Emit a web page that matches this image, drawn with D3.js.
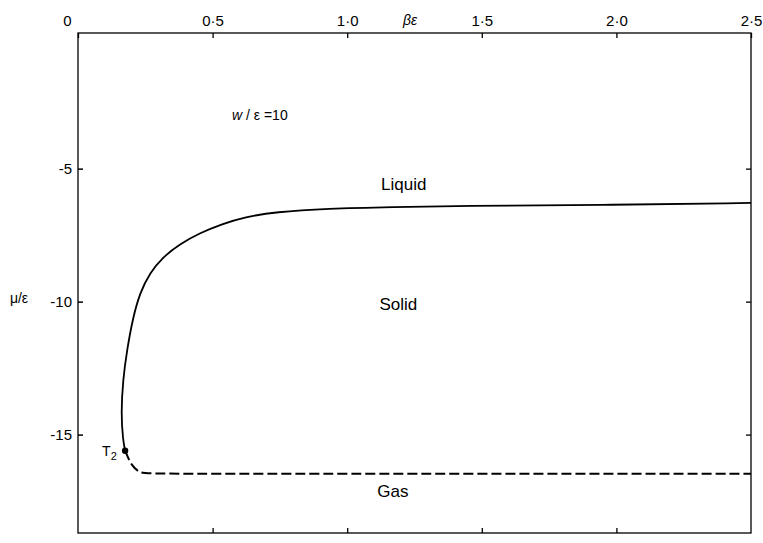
<!DOCTYPE html>
<html><head><meta charset="utf-8">
<script src="https://cdn.jsdelivr.net/npm/d3@7"></script>
<style>
body{margin:0;background:#fff;}
svg{display:block;font-family:"Liberation Sans","DejaVu Sans",sans-serif;}
</style></head>
<body><svg id="c" width="763" height="543"></svg>
<script>
// Data (beta*epsilon, mu/epsilon)
const xTicks = [0, 0.5, 1.0, 1.5, 2.0, 2.5];
const xTickLabels = ["0", "0·5", "1·0", "1·5", "2·0", "2·5"];
const yTicks = [-5, -10, -15];
const yTickLabels = ["-5", "-10", "-15"];
const solidBeta = [0.175, 0.167, 0.160, 0.167, 0.182, 0.204, 0.230, 0.267, 0.316, 0.379, 0.453, 0.535, 0.620, 0.732, 0.925, 1.17, 1.42, 1.94, 2.5];
const solidMu   = [-15.61, -15.2, -14.19, -12.95, -11.82, -10.61, -9.67, -8.92, -8.32, -7.83, -7.42, -7.08, -6.82, -6.63, -6.50, -6.44, -6.40, -6.37, -6.29];
const dashBeta = [0.175, 0.2, 0.23, 0.256, 0.6, 1.0, 1.5, 2.0, 2.5];
const dashMu   = [-15.61, -16.2, -16.43, -16.47, -16.47, -16.47, -16.47, -16.47, -16.47];
const triple = {beta: 0.175, mu: -15.61, label: "T"};
const regionLabels = ["Liquid", "Solid", "Gas"];
const regionBeta = [1.21, 1.19, 1.17];
const regionMu = [-5.8, -10.3, -17.35];

const svg = d3.select("#c");
const x = d3.scaleLinear().domain([0, 2.5]).range([78, 751]);
const y = d3.scaleLinear().domain([0.1, -18.7]).range([33, 533]);

const g = svg.append("g");
// frame
g.append("rect").attr("x", x(0)).attr("y", y(0.1)).attr("width", x(2.5)-x(0)).attr("height", y(-18.7)-y(0.1))
  .attr("fill","none").attr("stroke","#000").attr("stroke-width",1.3);

// top axis
const topAx = g.append("g").attr("transform", `translate(0,${y(0.1)})`)
  .call(d3.axisTop(x).tickValues(xTicks).tickSize(-5).tickFormat((d,i)=>xTickLabels[i]));
topAx.select(".domain").remove();
topAx.selectAll("line").attr("stroke","#000").attr("stroke-width",1.3);
topAx.selectAll("text").attr("font-size",15).attr("fill","#000").attr("y",-7);
topAx.selectAll(".tick").filter(d=>d===0).select("text").attr("x",-11);
// bottom ticks
const botAx = g.append("g").attr("transform", `translate(0,${y(-18.7)})`)
  .call(d3.axisBottom(x).tickValues(xTicks.slice(1,5)).tickSize(-5).tickFormat(""));
botAx.select(".domain").remove();
botAx.selectAll("line").attr("stroke","#000").attr("stroke-width",1.3);

// left axis
const leftAx = g.append("g").attr("transform", `translate(${x(0)},0)`)
  .call(d3.axisLeft(y).tickValues(yTicks).tickSize(-5).tickFormat((d,i)=>yTickLabels[i]));
leftAx.select(".domain").remove();
leftAx.selectAll("line").attr("stroke","#000").attr("stroke-width",1.5);
leftAx.selectAll("text").attr("font-size",15).attr("fill","#000").attr("x",-6);
// right ticks
const rightAx = g.append("g").attr("transform", `translate(${x(2.5)},0)`)
  .call(d3.axisRight(y).tickValues(yTicks).tickSize(-5).tickFormat(""));
rightAx.select(".domain").remove();
rightAx.selectAll("line").attr("stroke","#000").attr("stroke-width",1.3);

// axis titles
svg.append("text").attr("x", 410).attr("y", 25).attr("text-anchor","middle").attr("font-size",14)
  .attr("font-style","italic").text("βε");
svg.append("text").attr("x", 19).attr("y", 303).attr("text-anchor","middle").attr("font-size",14).text("μ/ε");

// curves
const solidPts = solidBeta.map((b,i)=>[b, solidMu[i]]);
svg.append("path").attr("d", d3.line().x(d=>x(d[0])).y(d=>y(d[1])).curve(d3.curveBasis)(solidPts))
  .attr("fill","none").attr("stroke","#000").attr("stroke-width",1.8);
const dashPts = dashBeta.map((b,i)=>[b, dashMu[i]]);
svg.append("path").attr("d", d3.line().x(d=>x(d[0])).y(d=>y(d[1])).curve(d3.curveBasis)(dashPts))
  .attr("fill","none").attr("stroke","#000").attr("stroke-width",2).attr("stroke-dasharray","10,4");

// triple point
svg.append("circle").attr("cx", x(triple.beta)).attr("cy", y(triple.mu)).attr("r",3.2).attr("fill","#000");
const tl = svg.append("text").attr("x", x(triple.beta)-23).attr("y", y(triple.mu)+5).attr("font-size",14);
tl.append("tspan").text(triple.label);
tl.append("tspan").attr("font-size",11).attr("dy",4).text("2");

// region labels
regionLabels.forEach((t,i)=>{
  svg.append("text").attr("x", x(regionBeta[i])).attr("y", y(regionMu[i])).attr("text-anchor","middle")
    .attr("font-size",17).text(t);
});
// parameter label
const pl = svg.append("text").attr("x", 232).attr("y", 120).attr("font-size",14);
pl.append("tspan").attr("font-style","italic").text("w");
pl.append("tspan").text(" / ε =10");
</script>
</body></html>
